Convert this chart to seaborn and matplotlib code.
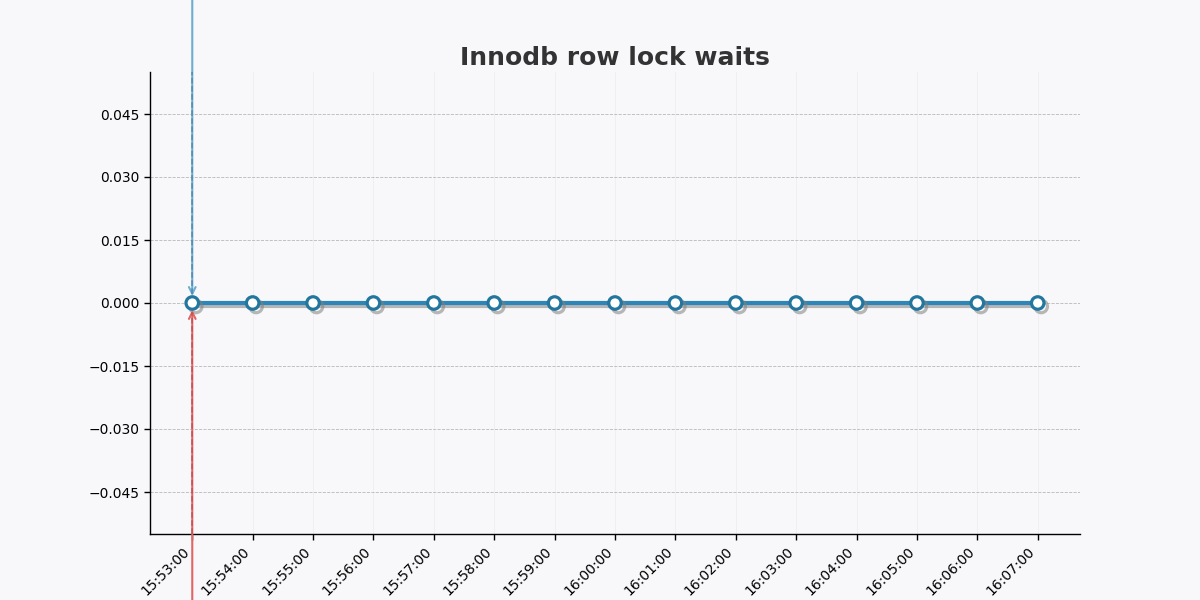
import matplotlib
matplotlib.use("Agg")
import matplotlib.pyplot as plt
import matplotlib.dates as mdates
import matplotlib.patheffects as pe
import seaborn as sns
import pandas as pd

# Dados do painel
horarios = [
    "15:53:00", "15:54:00", "15:55:00", "15:56:00", "15:57:00",
    "15:58:00", "15:59:00", "16:00:00", "16:01:00", "16:02:00",
    "16:03:00", "16:04:00", "16:05:00", "16:06:00", "16:07:00",
]
valores = [0, 0, 0, 0, 0, 0, 0, 0, 0, 0, 0, 0, 0, 0, 0]
y_ticks = [-0.045, -0.030, -0.015, 0.000, 0.015, 0.030, 0.045]
titulo = "Innodb row lock waits"

df = pd.DataFrame({
    "tempo": pd.to_datetime(["2024-01-01 " + h for h in horarios]),
    "valor": valores,
})

sns.set_theme(style="white")
plt.rcParams["font.family"] = ["DejaVu Sans"]

fundo = "#f8f8fa"
azul = "#2e86b8"

fig, ax = plt.subplots(figsize=(12, 6), dpi=100)
fig.patch.set_facecolor(fundo)
ax.set_facecolor(fundo)

sns.lineplot(
    data=df, x="tempo", y="valor", ax=ax,
    color=azul, linewidth=3, marker="o", markersize=9,
    markerfacecolor="white", markeredgecolor="#23779f", markeredgewidth=2.3,
)
for ln in ax.get_lines():
    ln.set_path_effects([
        pe.SimpleLineShadow(offset=(2.5, -2.5), shadow_color="gray", alpha=0.55),
        pe.Normal(),
    ])

# Máximo e mínimo
i_max = df["valor"].idxmax()
i_min = df["valor"].idxmin()
x_max, y_max = df["tempo"][i_max], df["valor"][i_max]
x_min, y_min = df["tempo"][i_min], df["valor"][i_min]

ax.annotate("", xy=(x_max, y_max), xytext=(0, 230), textcoords="offset points",
            arrowprops=dict(arrowstyle="->", color="#6aaed0", lw=1.5,
                            shrinkA=0, shrinkB=5),
            annotation_clip=False, zorder=3)
ax.annotate("", xy=(x_min, y_min), xytext=(0, -230), textcoords="offset points",
            arrowprops=dict(arrowstyle="->", color="#e06666", lw=1.5,
                            shrinkA=0, shrinkB=5),
            annotation_clip=False, zorder=3)
ax.axvline(x_max, ymin=0.52, ymax=1, color="#3c6f99", linestyle="--",
           linewidth=1.1, alpha=0.6, zorder=4)
ax.axvline(x_min, ymin=0, ymax=0.48, color="#b03c3c", linestyle="--",
           linewidth=1.1, alpha=0.6, zorder=4)

ax.set_ylim(-0.055, 0.055)
ax.set_yticks(y_ticks)
ax.set_yticklabels([f"{t:.3f}".replace("-", "\u2212") for t in y_ticks])
ax.set_xticks(df["tempo"])
ax.xaxis.set_major_formatter(mdates.DateFormatter("%H:%M:%S"))
plt.setp(ax.get_xticklabels(), rotation=45, ha="right")
ax.tick_params(axis="both", which="major", length=4, width=1, labelsize=10,
               color="black", labelcolor="black", bottom=True, left=True)

ax.grid(axis="y", linestyle="--", linewidth=0.6, color="#b8b8b8")
ax.grid(axis="x", linestyle="-", linewidth=0.6, color="#e8e8ec", alpha=0.6)

sns.despine(ax=ax)
for s in ["left", "bottom"]:
    ax.spines[s].set_color("black")
    ax.spines[s].set_linewidth(1)

ax.set_xlabel("")
ax.set_ylabel("")
ax.set_title(titulo, fontsize=18, fontweight="bold", color="#333333", pad=5)

fig.savefig("out.png", dpi=100, facecolor=fundo)
